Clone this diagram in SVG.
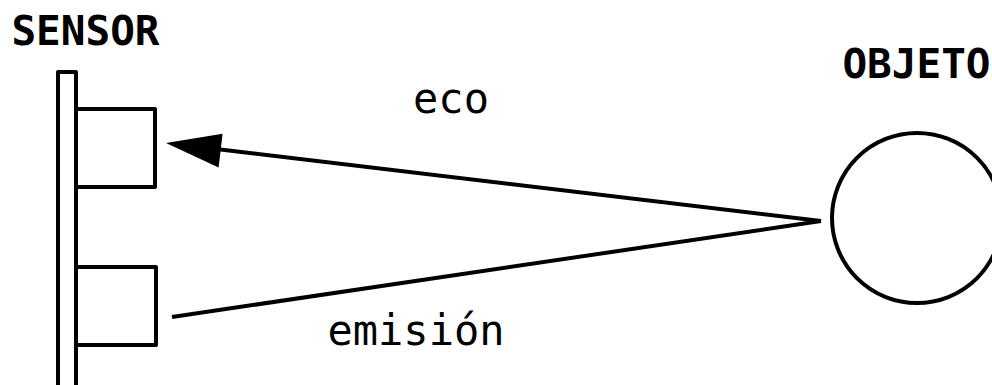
<svg xmlns="http://www.w3.org/2000/svg" width="992" height="385" viewBox="0 0 992 385">
<style>
.s{fill:#fff;stroke:#000;stroke-width:4;stroke-linejoin:round}
.t{font-family:"DejaVu Sans Mono",monospace;fill:#000;text-anchor:middle}
.b{font-weight:bold;font-size:41px}
.r{font-size:42px}
.c{fill:none;stroke:#000;stroke-width:4}
</style>
<rect width="992" height="385" fill="#fff"/>
<g id="sensor">
<rect class="s" x="58" y="72" width="18" height="330"/>
<rect class="s" x="76" y="109" width="79" height="78"/>
<rect class="s" x="76" y="267" width="80" height="78"/>
<text class="t b" x="85.5" y="45">SENSOR</text>
</g>
<g id="objeto">
<circle class="s" cx="917" cy="218" r="85"/>
<text class="t b" x="916.5" y="78">OBJETO</text>
</g>
<g id="connectors">
<line class="c" x1="821" y1="221" x2="212" y2="148.5"/>
<polygon points="166,143 222.6,133.7 218.6,167.5" fill="#000"/>
<line class="c" x1="172" y1="317" x2="821" y2="221"/>
<text class="t r" x="451" y="113">eco</text>
<text class="t r" x="416" y="345">emisión</text>
</g>
</svg>
